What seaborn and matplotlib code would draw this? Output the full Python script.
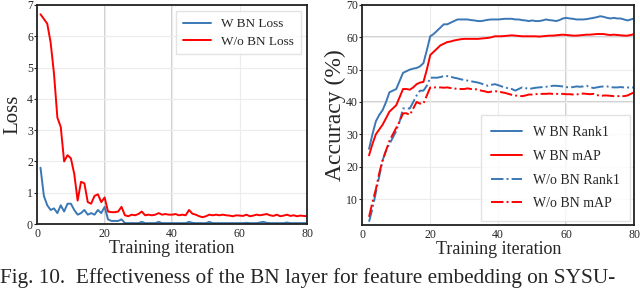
import matplotlib
matplotlib.use("Agg")
import matplotlib.pyplot as plt
import seaborn as sns
import numpy as np
import pandas as pd

# 손실 곡선 (iteration 1..80)
loss_iters = list(range(1, 81))
loss_w_bn = [1.8, 0.9, 0.6, 0.45, 0.5, 0.35, 0.6, 0.4, 0.65, 0.65,
             0.45, 0.3, 0.35, 0.45, 0.3, 0.35, 0.3, 0.45, 0.35, 0.55,
             0.15, 0.1, 0.1, 0.1, 0.15, 0.03, 0.03, 0.03, 0.03, 0.03,
             0.07, 0.03, 0.03, 0.03, 0.03, 0.07, 0.03, 0.03, 0.03, 0.03,
             0.03, 0.03, 0.03, 0.03, 0.07, 0.04, 0.03, 0.03, 0.03, 0.03,
             0.07, 0.03, 0.03, 0.03, 0.03, 0.03, 0.03, 0.03, 0.03, 0.03,
             0.03, 0.04, 0.03, 0.03, 0.03, 0.05, 0.07, 0.04, 0.03, 0.03,
             0.03, 0.03, 0.03, 0.05, 0.03, 0.03, 0.03, 0.03, 0.03, 0.03]
loss_wo_bn = [6.7, 6.55, 6.4, 5.8, 4.8, 3.4, 3.1, 2.0, 2.2, 2.1,
              1.6, 0.75, 1.35, 1.3, 0.7, 0.65, 0.9, 0.95, 0.7, 0.85,
              0.4, 0.38, 0.38, 0.4, 0.55, 0.28, 0.25, 0.3, 0.28, 0.32,
              0.4, 0.28, 0.3, 0.28, 0.3, 0.35, 0.3, 0.32, 0.3, 0.3,
              0.32, 0.28, 0.3, 0.28, 0.45, 0.33, 0.3, 0.25, 0.22, 0.25,
              0.3, 0.28, 0.3, 0.28, 0.3, 0.28, 0.27, 0.25, 0.28, 0.27,
              0.26, 0.3, 0.25, 0.27, 0.3, 0.28, 0.3, 0.32, 0.28, 0.26,
              0.3, 0.25, 0.27, 0.3, 0.26, 0.28, 0.25, 0.27, 0.26, 0.25]

# 정확도 곡선 (iteration 2..80)
acc_iters = list(range(2, 81))
rank1_w_bn = [25.5, 30, 34, 36, 37.5, 40, 43, 43.5, 44,
              46.5, 49, 49.5, 50, 50.3, 50.5, 51, 52, 56, 60.3,
              61, 62, 63, 64, 64, 64.5, 65, 65.5, 65.5, 65.5,
              65.5, 65.3, 65.2, 65, 65, 65.2, 65.4, 65.5, 65.5, 65.5,
              65.6, 65.7, 65.7, 65.7, 65.5, 65.5, 65.3, 65.2, 65, 65.2,
              65, 65, 65.2, 65.5, 65.3, 65.2, 65, 65.3, 65.8, 66,
              65.8, 65.7, 65.5, 65.5, 65.5, 65.6, 65.8, 66, 66.2, 66.5,
              66.3, 66, 65.8, 66, 65.8, 65.8, 65.5, 65.2, 65.5, 65.8]
map_w_bn = [23.5, 27, 30, 31.5, 33, 35, 37, 38, 39,
            41.5, 44, 44, 43.8, 44.5, 45.5, 46, 46.2, 50, 54.5,
            55.5, 56.5, 57.5, 58, 58.5, 58.7, 59, 59.2, 59.4, 59.5,
            59.5, 59.5, 59.5, 59.5, 59.6, 59.7, 59.8, 60, 60.3, 60.3,
            60.3, 60.4, 60.5, 60.6, 60.5, 60.4, 60.3, 60.3, 60.3, 60.3,
            60.3, 60.2, 60.3, 60.4, 60.5, 60.5, 60.6, 60.7, 60.8, 60.7,
            60.6, 60.5, 60.5, 60.6, 60.7, 60.8, 60.8, 60.9, 61, 61,
            61, 60.8, 60.7, 60.8, 60.7, 60.6, 60.5, 60.5, 60.7, 61]
rank1_wo_bn = [3, 7, 12, 17, 22, 25, 27, 29, 31,
               34, 38, 38, 38, 40, 42, 43.5, 43.5, 45, 47.5,
               47.5, 47.5, 47.7, 48, 48, 47.8, 47.5, 47.3, 47, 46.8,
               46.6, 46.4, 46.2, 46, 45.7, 45.3, 45, 45.3, 45.5, 45.2,
               44.8, 44.5, 44.2, 44, 43.5, 44, 44.5, 44.3, 44, 44.2,
               44.4, 44.5, 44.6, 44.7, 44.8, 45, 45, 44.9, 44.8, 44.6,
               44.5, 44.6, 44.8, 44.7, 44.8, 45, 44.6, 44.3, 44.5, 44.7,
               44.8, 44.8, 44.6, 44.5, 44.5, 44.6, 44.5, 44.5, 44.4, 44.5]
map_wo_bn = [4.5, 9, 13, 18, 22, 25, 28, 30, 32,
             34, 36.5, 36.5, 36, 38, 40, 39.5, 39.5, 42, 44.5,
             44.5, 44.5, 44.5, 44.4, 44.5, 44.3, 44.2, 44, 44, 44,
             44.2, 44, 44, 43.8, 43.5, 43.3, 43, 43.2, 43.3, 43.3,
             43, 42.8, 42.5, 42.2, 42, 41.9, 41.8, 42, 42.3, 42.3,
             42.4, 42.5, 42.5, 42.5, 42.6, 42.5, 42.5, 42.5, 42.5, 42.4,
             42.4, 42.3, 42.3, 42.5, 42.6, 42.5, 42.4, 42.5, 42.2, 41.8,
             42, 42, 41.9, 41.8, 41.8, 41.8, 41.8, 42, 42.5, 43]

loss_df = pd.DataFrame({"iter": loss_iters, "W BN Loss": loss_w_bn,
                        "W/o BN Loss": loss_wo_bn})
acc_df = pd.DataFrame({"iter": acc_iters, "W BN Rank1": rank1_w_bn,
                       "W BN mAP": map_w_bn, "W/o BN Rank1": rank1_wo_bn,
                       "W/o BN mAP": map_wo_bn})

blue = "#3a78b5"
red = "#ff0000"

sns.set_style("whitegrid", {"grid.color": "#ececec", "axes.edgecolor": "black"})
plt.rcParams["font.family"] = ["Liberation Serif", "DejaVu Serif"]

fig = plt.figure(figsize=(6.4, 2.88), dpi=100)
ax1 = fig.add_axes([0.058, 0.222, 0.422, 0.761])
ax2 = fig.add_axes([0.566, 0.219, 0.425, 0.764])

# 왼쪽: Loss
sns.lineplot(data=loss_df, x="iter", y="W BN Loss", ax=ax1, color=blue,
             lw=1.4, label="W BN Loss")
sns.lineplot(data=loss_df, x="iter", y="W/o BN Loss", ax=ax1, color=red,
             lw=1.4, label="W/o BN Loss")
ax1.set_xlim(0, 80)
ax1.set_ylim(0, 7)
ax1.set_xticks([0, 20, 40, 60, 80])
ax1.set_yticks(range(0, 8))
for xv in [20, 40]:
    ax1.axvline(xv, color="#c8c8c8", lw=1.2, zorder=0)
ax1.set_xlabel("Training iteration", fontsize=13, labelpad=0)
ax1.set_ylabel("Loss", fontsize=15, labelpad=3)
ax1.legend(loc="upper right", fontsize=9.5, frameon=True, handlelength=2.1,
           borderpad=0.5, labelspacing=0.4, fancybox=False, edgecolor="#dddddd")

# 오른쪽: Accuracy
styles = [("W BN Rank1", blue, "-"), ("W BN mAP", red, "-"),
          ("W/o BN Rank1", blue, "-."), ("W/o BN mAP", red, "-.")]
for name, c, ls in styles:
    sns.lineplot(data=acc_df, x="iter", y=name, ax=ax2, color=c, lw=1.4,
                 linestyle=ls, label=name)
ax2.set_xlim(0, 80)
ax2.set_ylim(2, 70)
ax2.set_xticks([0, 20, 40, 60, 80])
ax2.set_yticks(range(10, 80, 10))
ax2.axvline(60, color="#c8c8c8", lw=1.2, zorder=0)
for yv in [40, 60]:
    ax2.axhline(yv, color="#c8c8c8", lw=1.2, zorder=0)
ax2.set_xlabel("Training iteration", fontsize=13, labelpad=0)
ax2.set_ylabel("Accuracy (%)", fontsize=17, labelpad=0)
ax2.legend(loc="lower right", fontsize=10, frameon=True, handlelength=2.2,
           borderpad=0.75, labelspacing=0.78, fancybox=False, edgecolor="#dddddd",
           borderaxespad=0.3)

for ax in (ax1, ax2):
    ax.tick_params(labelsize=8.5, pad=1, length=2, width=0.8, left=True)
    for s in ax.spines.values():
        s.set_linewidth(1.3)
        s.set_color("#222222")

fig.text(0.0, 0.018, "Fig. 10.  Effectiveness of the BN layer for feature embedding on SYSU-",
         fontsize=15.3, ha="left", va="baseline")

fig.savefig("out.png", dpi=100)
